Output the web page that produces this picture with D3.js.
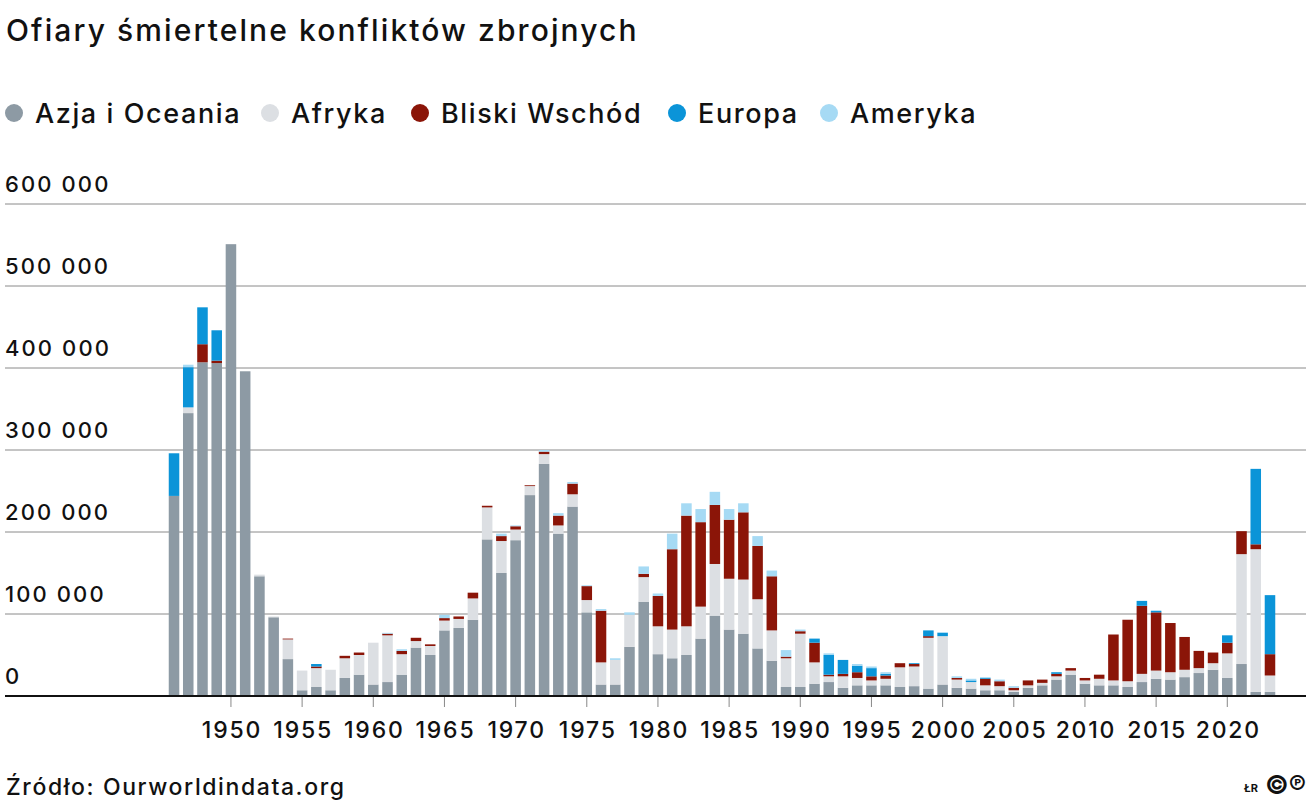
<!DOCTYPE html>
<html>
<head>
<meta charset="utf-8">
<script src="https://cdn.jsdelivr.net/npm/d3@7"></script>
<style>
  body { margin: 0; background: #fff; }
  text { font-family: Inter, "Noto Sans", sans-serif; fill: #111; }
</style>
</head>
<body>
<svg id="root"></svg>
<script>
// deaths in thousands, years 1946-2023
const years = d3.range(1946, 2024);

const azja = [
  244,345,407,406,
  551,396,146,96,45,7,11,7,22,26,
  14,17,26,59,50,80,83,93,191,150,
  190,245,283,198,231,102,14,14,60,115,
  51,46,50,70,98,81,76,58,43,11,
  11,15,17,10,13,13,13,11,12,9,
  14,10,9,7,7,5,10,13,20,26,
  15,13,13,11,17,21,20,23,28,32,
  22,39,5,5];

const afryka = [
  0,7,0,0,
  0,0,2,1,24,24,23,25,24,24,
  51,57,25,8,11,12,11,26,39,39,
  13,11,12,10,15,15,27,30,39,30,
  34,35,35,39,63,62,66,60,37,35,
  65,26,7,14,9,6,8,24,24,62,
  59,10,8,6,5,2,3,3,4,5,
  4,8,6,7,10,10,9,9,6,8,
  30,134,174,20];

const bliskiWschod = [
  0,0,22,3,
  0,0,0,0,1,0,2,0,3,3,
  0,2,4,4,2,3,3,7,2,6,
  4,1,3,12,13,17,63,0,0,4,
  37,98,135,103,72,72,82,65,66,2,
  3,24,2,3,7,5,4,5,3,2,
  0,2,0,8,6,3,6,4,3,3,
  3,5,56,75,83,71,60,40,21,13,
  13,28,6,26];

const europa = [
  52,49,45,37,
  0,0,0,0,0,0,3,0,0,0,
  0,0,0,0,0,0,0,0,0,0,
  0,0,0,0,0,0,0,0,0,0,
  0,0,0,0,0,0,0,0,0,0,
  0,5,24,17,8,10,2,0,1,7,
  4,0,2,1,0,0,0,0,2,0,
  0,0,0,0,6,2,0,0,0,0,
  9,0,92,72];

const ameryka = [
  0,3,0,0,
  0,0,0,0,0,0,0,0,0,0,
  0,1,2,0,0,4,0,0,0,3,
  1,0,2,3,2,1,2,2,3,9,
  3,19,15,16,16,13,11,12,7,8,
  2,0,2,0,2,2,2,0,0,0,
  1,2,2,1,2,2,0,0,0,0,
  0,0,0,0,0,0,0,0,0,0,
  0,0,0,0];

const seriesNames = ['Azja i Oceania', 'Afryka', 'Bliski Wschód', 'Europa', 'Ameryka'];
const seriesValues = [azja, afryka, bliskiWschod, europa, ameryka];
const colors = ['#8d9aa4', '#dcdfe3', '#8b1508', '#0b94d8', '#a6daf4'];
const yTicks = [0, 100, 200, 300, 400, 500, 600];
const xTicks = d3.range(1950, 2021, 5);

const width = 1313, height = 808;
const svg = d3.select('#root').attr('width', width).attr('height', height);

const rows = years.map((yr, i) => {
  const r = { year: yr };
  seriesNames.forEach((s, j) => r[s] = seriesValues[j][i]);
  return r;
});
const stacked = d3.stack().keys(seriesNames)(rows);

const x = d3.scaleBand().domain(years).range([166.9, 1277.1]).paddingInner(0.26).paddingOuter(0.13);
const y = d3.scaleLinear().domain([0, 600]).range([696, 204]);
const color = d3.scaleOrdinal().domain(seriesNames).range(colors);

// title
svg.append('text').attr('x', 6).attr('y', 41)
  .style('font-size', '30px').style('font-weight', 500).style('letter-spacing', '2.1px')
  .text('Ofiary śmiertelne konfliktów zbrojnych');

// legend
const legendX = [14, 270, 420, 677, 829];
const legend = svg.append('g').selectAll('g').data(seriesNames).join('g')
  .attr('transform', (d, i) => `translate(${legendX[i]}, 113)`);
legend.append('circle').attr('r', 9).attr('fill', d => color(d));
legend.append('text').attr('x', 21).attr('dy', '0.36em')
  .style('font-size', '27px').style('font-weight', 500).style('letter-spacing', '1.6px')
  .text(d => d);

// grid + y labels
const grid = svg.append('g');
grid.selectAll('line').data(yTicks.filter(d => d > 0)).join('line')
  .attr('x1', 5).attr('x2', 1306)
  .attr('y1', d => y(d)).attr('y2', d => y(d))
  .attr('stroke', '#8a8a8a').attr('stroke-width', 1);
grid.selectAll('text').data(yTicks).join('text')
  .attr('x', 5).attr('y', d => y(d) - 12)
  .style('font-size', '22px').style('font-weight', 500).style('letter-spacing', '2.1px')
  .text(d => d3.format(',')(d * 1000).replace(/,/g, ' '));

// bars
svg.append('g').selectAll('g').data(stacked).join('g')
  .attr('fill', d => color(d.key))
  .selectAll('rect').data(d => d).join('rect')
  .attr('x', d => x(d.data.year))
  .attr('width', x.bandwidth())
  .attr('y', d => y(d[1]))
  .attr('height', d => y(d[0]) - y(d[1]));

// x axis
const xAxis = svg.append('g').attr('transform', 'translate(0, 696)')
  .call(d3.axisBottom(x).tickValues(xTicks).tickSize(11).tickPadding(20).tickSizeOuter(0));
xAxis.select('.domain').remove();
xAxis.selectAll('.tick line').attr('stroke', '#888');
xAxis.selectAll('.tick text')
  .attr('y', 42).attr('dy', null).attr('dx', '1px')
  .style('font-size', '23px').style('font-weight', 500).style('letter-spacing', '1.8px')
  .style('font-family', 'Inter, "Noto Sans", sans-serif').attr('fill', '#111');
svg.append('line').attr('x1', 5).attr('x2', 1306).attr('y1', 696).attr('y2', 696)
  .attr('stroke', '#111').attr('stroke-width', 2);

// footer
svg.append('text').attr('x', 6).attr('y', 795)
  .style('font-size', '23px').style('font-weight', 500).style('letter-spacing', '1.6px')
  .text('Źródło: Ourworldindata.org');
svg.append('text').attr('x', 1244).attr('y', 792)
  .style('font-size', '11px').style('font-weight', 700)
  .text('ŁR');
svg.append('text').attr('x', 1306).attr('y', 794).attr('text-anchor', 'end')
  .style('font-size', '26px').style('font-weight', 700)
  .text('©℗');
</script>
</body>
</html>
